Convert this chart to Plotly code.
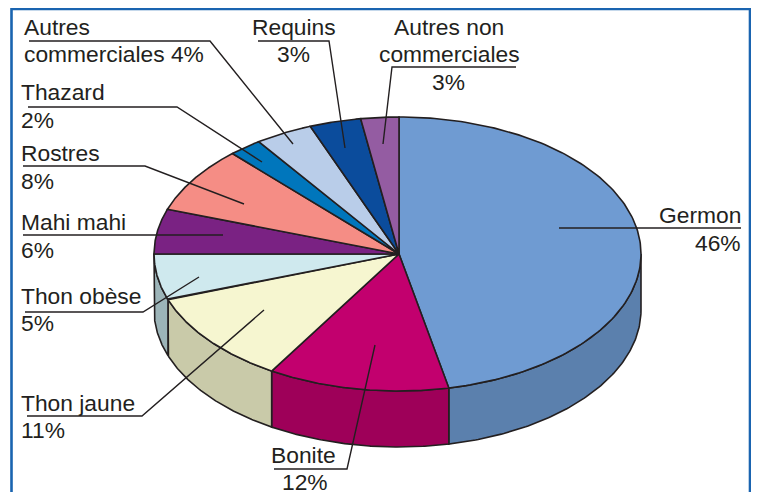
import numpy as np
import plotly.graph_objects as go

categories = ["Germon", "Bonite", "Thon jaune", "Thon obèse", "Mahi mahi", "Rostres",
              "Thazard", "Autres commerciales", "Requins", "Autres non commerciales"]
percent_labels = [46, 12, 11, 5, 6, 8, 2, 4, 3, 3]
# Angular shares as drawn in the picture
drawn_shares = [46.7, 12.0, 10.9, 5.4, 5.3, 7.8, 2.2, 3.8, 3.4, 2.5]
top_colors = ["#6f9bd2", "#c2006e", "#f6f6d0", "#cfe9ee", "#7a2283", "#f58d85",
              "#0076bc", "#b9cde9", "#0b4c9c", "#945ca2"]
wall_colors = ["#5b80ad", "#9e0059", "#c9caa9", "#9cb4b8", "#5a1a60", "#b86a64",
               "#005a8e", "#8b9ab0", "#083a76", "#6f457a"]

W, H = 759, 492
PAGE_MARGIN = 8  # the browser's body margin offsets the figure
CX, CY, RX_RIGHT, RX_LEFT, RY, DEPTH = 399, 254, 242, 245, 137, 56
INK = "#231f20"
FRAME = "#1a64b0"


def ellipse(t_deg, dy=0.0):
    t = np.radians(t_deg)
    s = np.sin(t)
    return CX + np.where(s < 0, RX_LEFT, RX_RIGHT) * s, CY - RY * np.cos(t) + dy


fig = go.Figure()
edges = np.concatenate([[0], np.cumsum(drawn_shares)]) * 360 / sum(drawn_shares)

# Side walls (only the front half of the disc is visible)
for i, name in enumerate(categories):
    a, b = max(edges[i], 90), min(edges[i + 1], 270)
    if b <= a:
        continue
    t = np.linspace(a, b, 120)
    x1, y1 = ellipse(t)
    x2, y2 = ellipse(t[::-1], DEPTH)
    fig.add_trace(go.Scatter(
        x=np.r_[x1, x2, x1[0]], y=np.r_[y1, y2, y1[0]], mode="lines", fill="toself",
        fillcolor=wall_colors[i], line=dict(color=INK, width=1.6), name=name + " (côté)",
        hoverinfo="skip"))

# Top face
for i, name in enumerate(categories):
    t = np.linspace(edges[i], edges[i + 1], 160)
    x, y = ellipse(t)
    fig.add_trace(go.Scatter(
        x=np.r_[CX, x, CX], y=np.r_[CY, y, CY], mode="lines", fill="toself",
        fillcolor=top_colors[i], line=dict(color=INK, width=1.6), name=name,
        text=f"{name} {percent_labels[i]}%", hoverinfo="text"))

# Leader lines
leaders = [
    [(29, 41), (210, 41), (293, 144)],
    [(258, 41), (329, 41), (345, 148)],
    [(383, 144), (392, 67), (516, 67)],
    [(28, 107), (177, 107), (262, 162)],
    [(23, 166), (145, 166), (244, 204)],
    [(23, 235), (223, 235)],
    [(25, 312), (143, 312), (199, 277)],
    [(27, 416), (142, 416), (264, 310)],
    [(274, 469), (347, 469), (375, 345)],
    [(741, 228), (559, 228)],
]
for pts in leaders:
    xs, ys = zip(*pts)
    fig.add_trace(go.Scatter(x=xs, y=ys, mode="lines", line=dict(color=INK, width=1.4),
                             hoverinfo="skip"))

# Text: (string, x, y, anchor)
texts = [
    ("Autres", 23, 27, "left"),
    (f"commerciales {percent_labels[7]}%", 23, 54, "left"),
    ("Requins", 294, 27, "center"),
    (f"{percent_labels[8]}%", 293, 54, "center"),
    ("Autres non", 449, 27, "center"),
    ("commerciales", 449, 54, "center"),
    (f"{percent_labels[9]}%", 448, 82, "center"),
    ("Thazard", 20, 92, "left"),
    (f"{percent_labels[6]}%", 20, 120, "left"),
    ("Rostres", 20, 153, "left"),
    (f"{percent_labels[5]}%", 20, 181, "left"),
    ("Mahi mahi", 20, 222, "left"),
    (f"{percent_labels[4]}%", 20, 250, "left"),
    ("Thon obèse", 20, 296, "left"),
    (f"{percent_labels[3]}%", 20, 323, "left"),
    ("Thon jaune", 20, 403, "left"),
    (f"{percent_labels[2]}%", 20, 430, "left"),
    ("Bonite", 270, 455, "left"),
    (f"{percent_labels[1]}%", 305, 482, "center"),
    ("Germon", 742, 215, "right"),
    (f"{percent_labels[0]}%", 742, 243, "right"),
]
annotations = [
    dict(text=s, x=x, y=y, xref="x", yref="y", xanchor=a, yanchor="middle", showarrow=False,
         borderpad=0, font=dict(family="Liberation Sans", size=22.8, color=INK))
    for s, x, y, a in texts
]

fig.update_layout(
    width=W - PAGE_MARGIN, height=H - PAGE_MARGIN, margin=dict(l=0, r=0, t=0, b=0),
    showlegend=False, paper_bgcolor="white", plot_bgcolor="white",
    xaxis=dict(range=[PAGE_MARGIN, W], visible=False, fixedrange=True),
    yaxis=dict(range=[H, PAGE_MARGIN], visible=False, fixedrange=True),
    annotations=annotations,
    shapes=[dict(type="path", path=f"M 11.5 {H + 5} L 11.5 9 L 750 9 L 750 {H + 5}",
                 xref="x", yref="y", line=dict(color=FRAME, width=2.6))],
)
fig.write_html("out.html", config={"displayModeBar": False})
